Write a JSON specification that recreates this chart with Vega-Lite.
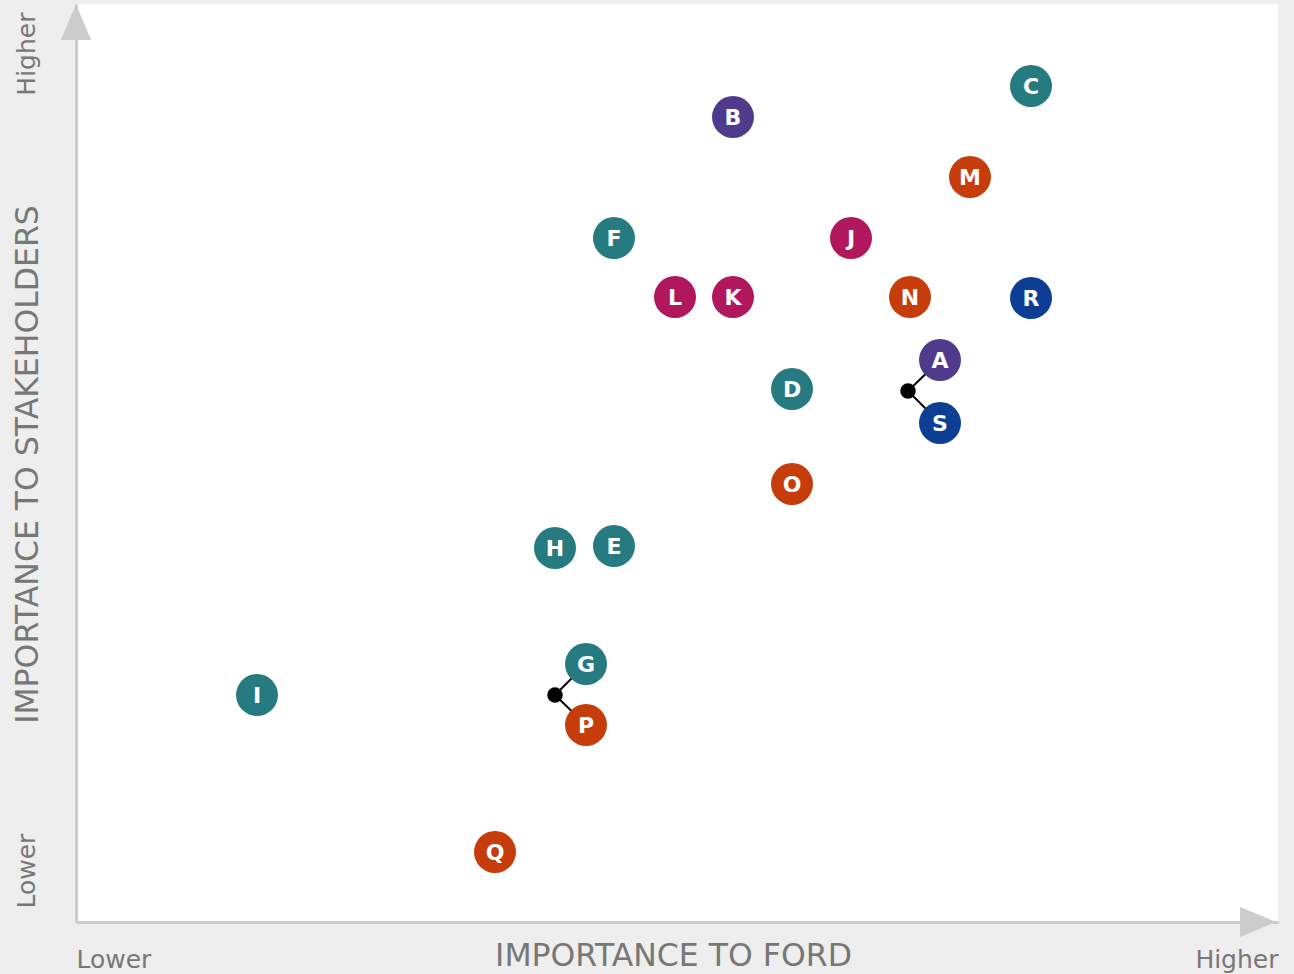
{
  "$schema": "https://vega.github.io/schema/vega-lite/v6.json",
  "width": 1202,
  "height": 918,
  "autosize": {"type": "none"},
  "padding": {"left": 76, "top": 4, "right": 16, "bottom": 52},
  "background": "#eeeeee",
  "config": {
    "view": {"fill": "#ffffff", "stroke": null},
    "font": "DejaVu Sans"
  },
  "datasets": {
    "items": [
      {"id": "A", "x": 864, "y": 562, "group": "purple"},
      {"id": "B", "x": 657, "y": 805, "group": "purple"},
      {"id": "C", "x": 955, "y": 836, "group": "teal"},
      {"id": "D", "x": 716, "y": 533, "group": "teal"},
      {"id": "E", "x": 538, "y": 376, "group": "teal"},
      {"id": "F", "x": 538, "y": 684, "group": "teal"},
      {"id": "G", "x": 510, "y": 258, "group": "teal"},
      {"id": "H", "x": 479, "y": 374, "group": "teal"},
      {"id": "I", "x": 181, "y": 227, "group": "teal"},
      {"id": "J", "x": 775, "y": 684, "group": "magenta"},
      {"id": "K", "x": 657, "y": 625, "group": "magenta"},
      {"id": "L", "x": 599, "y": 625, "group": "magenta"},
      {"id": "M", "x": 894, "y": 745, "group": "orange"},
      {"id": "N", "x": 834, "y": 625, "group": "orange"},
      {"id": "O", "x": 716, "y": 438, "group": "orange"},
      {"id": "P", "x": 510, "y": 197, "group": "orange"},
      {"id": "Q", "x": 419, "y": 70, "group": "orange"},
      {"id": "R", "x": 955, "y": 624, "group": "blue"},
      {"id": "S", "x": 864, "y": 499, "group": "blue"}
    ],
    "links": [
      {"x": 832, "y": 531, "x2": 864, "y2": 562},
      {"x": 832, "y": 531, "x2": 864, "y2": 499},
      {"x": 479, "y": 227, "x2": 510, "y2": 258},
      {"x": 479, "y": 227, "x2": 510, "y2": 197}
    ],
    "hubs": [
      {"x": 832, "y": 531},
      {"x": 479, "y": 227}
    ],
    "arrows": [
      {"x": 0, "y": 918, "dir": "up"},
      {"x": 1200, "y": 0, "dir": "right"}
    ]
  },
  "encoding": {
    "x": {
      "field": "x",
      "type": "quantitative",
      "scale": {"domain": [0, 1202], "nice": false, "zero": false},
      "axis": {
        "values": [0, 1202],
        "labelExpr": "datum.value < 600 ? 'Lower' : 'Higher'",
        "labelAlign": {"condition": {"test": "datum.value < 600", "value": "left"}, "value": "right"},
        "labelBaseline": "alphabetic",
        "labelPadding": 45,
        "labelFontSize": 25,
        "labelColor": "#777777",
        "labelFlush": false,
        "labelOverlap": false,
        "ticks": false,
        "grid": false,
        "domainColor": "#cccccc",
        "domainWidth": 3,
        "title": "IMPORTANCE TO FORD",
        "titleFontSize": 31.5,
        "titleFontWeight": "normal",
        "titleColor": "#777777",
        "titleBaseline": "alphabetic",
        "titleY": 43,
        "titleX": 597
      }
    },
    "y": {
      "field": "y",
      "type": "quantitative",
      "scale": {"domain": [0, 918], "nice": false, "zero": false},
      "axis": {
        "values": [14, 910],
        "labelExpr": "datum.value < 400 ? 'Lower' : 'Higher'",
        "labelAngle": 270,
        "labelAlign": {"condition": {"test": "datum.value > 400", "value": "right"}, "value": "left"},
        "labelBaseline": "alphabetic",
        "labelPadding": 42,
        "labelFontSize": 25,
        "labelColor": "#777777",
        "labelFlush": false,
        "labelOverlap": false,
        "ticks": false,
        "grid": false,
        "domainColor": "#cccccc",
        "domainWidth": 3,
        "title": "IMPORTANCE TO STAKEHOLDERS",
        "titleFontSize": 31.5,
        "titleFontWeight": "normal",
        "titleColor": "#777777",
        "titleAngle": 270,
        "titleAlign": "center",
        "titleBaseline": "alphabetic",
        "titleX": -39,
        "titleY": 460
      }
    }
  },
  "layer": [
    {
      "data": {"name": "links"},
      "mark": {"type": "rule", "color": "#000000", "strokeWidth": 2},
      "encoding": {
        "x2": {"field": "x2"},
        "y2": {"field": "y2"}
      }
    },
    {
      "data": {"name": "hubs"},
      "mark": {"type": "point", "filled": true, "shape": "circle", "size": 240, "color": "#000000", "opacity": 1}
    },
    {
      "data": {"name": "items"},
      "mark": {"type": "point", "filled": true, "shape": "circle", "size": 1764, "opacity": 1},
      "encoding": {
        "color": {
          "field": "group",
          "type": "nominal",
          "scale": {
            "domain": ["teal", "purple", "magenta", "orange", "blue"],
            "range": ["#267b80", "#4f3a8c", "#b0175c", "#c63c0a", "#0d3e94"]
          },
          "legend": null
        }
      }
    },
    {
      "data": {"name": "items"},
      "mark": {"type": "text", "color": "#ffffff", "fontWeight": "bold", "fontSize": 22, "align": "center", "baseline": "middle", "dy": 1, "font": "DejaVu Sans"},
      "encoding": {
        "text": {"field": "id"}
      }
    },
    {
      "data": {"name": "arrows"},
      "mark": {"type": "point", "filled": true, "size": 5184, "color": "#cccccc", "opacity": 1, "clip": false},
      "encoding": {
        "shape": {
          "field": "dir",
          "type": "nominal",
          "scale": {
            "domain": ["up", "right"],
            "range": ["M0,0L-0.42,1L0.42,1Z", "M0,0L-1,-0.42L-1,0.42Z"]
          },
          "legend": null
        }
      }
    }
  ]
}
